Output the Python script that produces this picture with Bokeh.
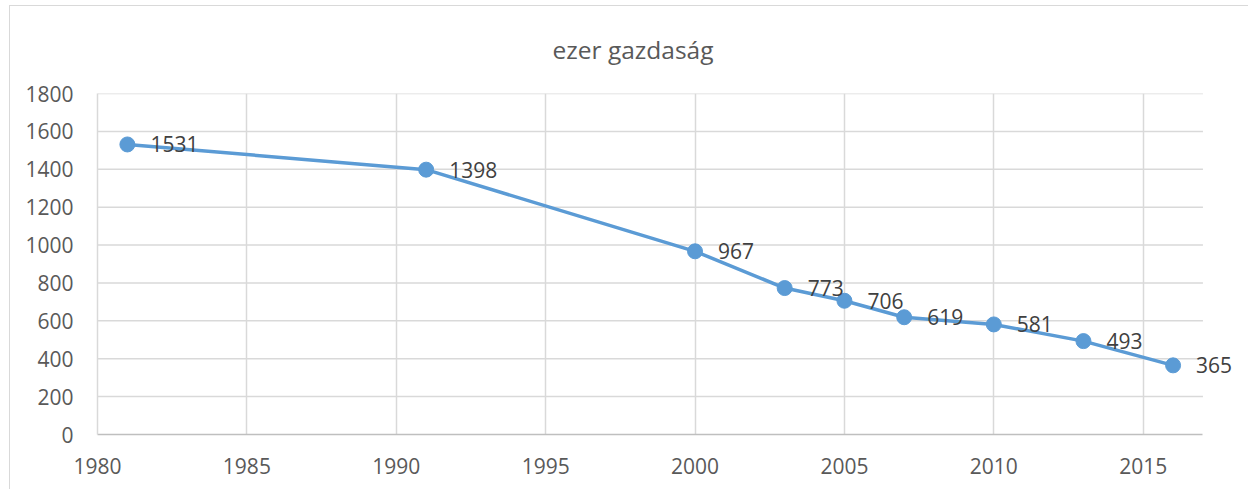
from bokeh.plotting import figure
from bokeh.models import Range1d, ColumnDataSource, FixedTicker, LabelSet
from bokeh.core.properties import value
from bokeh.embed import file_html
from bokeh.resources import INLINE

years = [1981, 1991, 2000, 2003, 2005, 2007, 2010, 2013, 2016]
values = [1531, 1398, 967, 773, 706, 619, 581, 493, 365]
labels = [str(v) for v in values]
x_ticks = [1980, 1985, 1990, 1995, 2000, 2005, 2010, 2015]
y_ticks = [0, 200, 400, 600, 800, 1000, 1200, 1400, 1600, 1800]
x_min, x_max = 1980, 2017
title_text = "ezer gazdaság"

FONT = "Open Sans"
LINE = "#5B9BD5"
GRID = "#D9D9D9"

src = ColumnDataSource(dict(x=years, y=values, lab=labels))

p = figure(width=1239, height=484, output_backend="svg", toolbar_location=None,
           x_range=Range1d(1980, 2018.19), y_range=Range1d(0, 1800),
           min_border_left=87, min_border_right=11, min_border_top=87, min_border_bottom=56,
           title=title_text)
p.styles = {"border-top": "1px solid #D9D9D9", "border-left": "1px solid #D9D9D9",
            "margin-left": "9px", "margin-top": "5px"}

p.title.text_font = FONT
p.title.text_font_size = "24.5px"
p.title.text_font_style = "normal"
p.title.text_color = "#595959"
p.title.align = "left"
p.title.offset = 455
p.title.vertical_align = "top"
p.title.standoff = 52

p.outline_line_color = None
p.background_fill_color = "white"
p.border_fill_color = "white"

for ax in (p.xaxis[0], p.yaxis[0]):
    ax.major_tick_line_color = None
    ax.minor_tick_line_color = None
    ax.major_label_text_font = FONT
    ax.major_label_text_font_size = "21px"
    ax.major_label_text_color = "#595959"
p.xaxis[0].major_label_standoff = 17
p.yaxis[0].major_label_standoff = 18

p.xaxis[0].ticker = FixedTicker(ticks=x_ticks)
p.yaxis[0].ticker = FixedTicker(ticks=y_ticks)
p.xaxis[0].bounds = (x_min, x_max)
p.xaxis[0].axis_line_color = "#BFBFBF"
p.xaxis[0].axis_line_width = 1.5
p.yaxis[0].axis_line_color = GRID
p.yaxis[0].axis_line_width = 1.5

p.xgrid.ticker = FixedTicker(ticks=x_ticks)
p.xgrid.grid_line_color = GRID
p.xgrid.grid_line_width = 1.5
p.ygrid.grid_line_color = None

gy = [t for t in y_ticks if t > 0]
p.segment(x0=[x_min] * len(gy), x1=[x_max] * len(gy), y0=gy, y1=gy,
          line_color=GRID, line_width=1.5)

p.line("x", "y", source=src, line_color=LINE, line_width=3.5)
p.scatter("x", "y", source=src, size=15, fill_color=LINE, line_color=LINE)

lbl = LabelSet(x="x", y="y", text="lab", source=src, x_offset=23, y_offset=0,
               text_font=value(FONT), text_font_size="21px", text_color="#404040",
               text_baseline="middle", text_align="left")
p.add_layout(lbl)

open("out.html", "w").write(file_html(p, INLINE))
